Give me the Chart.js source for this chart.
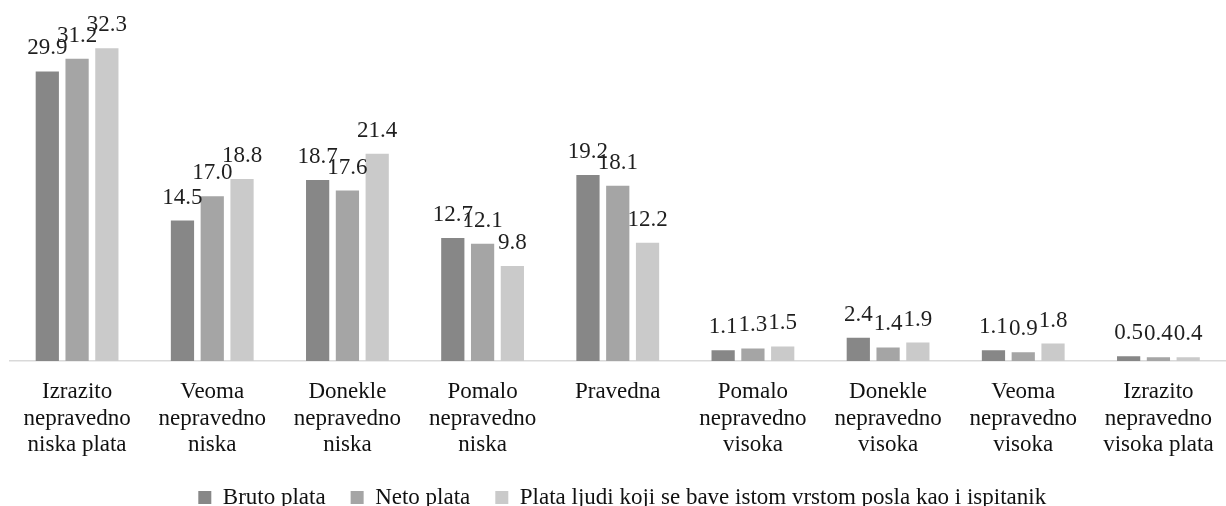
<!DOCTYPE html>
<html>
<head>
<meta charset="utf-8">
<script src="https://cdn.jsdelivr.net/npm/chart.js@4/dist/chart.umd.min.js"></script>
<style>
  html, body { margin: 0; padding: 0; background: #fff; }
  #wrap { width: 1226px; height: 506px; }
</style>
</head>
<body>
<div id="wrap"><canvas id="plataChart"></canvas></div>
<script>
// Procjena plate - podaci
var kategorije = [
    ['Izrazito', 'nepravedno', 'niska plata'],
    ['Veoma', 'nepravedno', 'niska'],
    ['Donekle', 'nepravedno', 'niska'],
    ['Pomalo', 'nepravedno', 'niska'],
    ['Pravedna'],
    ['Pomalo', 'nepravedno', 'visoka'],
    ['Donekle', 'nepravedno', 'visoka'],
    ['Veoma', 'nepravedno', 'visoka'],
    ['Izrazito', 'nepravedno', 'visoka plata']
];
var brutoPlata = [29.9, 14.5, 18.7, 12.7, 19.2, 1.1, 2.4, 1.1, 0.5];
var netoPlata = [31.2, 17.0, 17.6, 12.1, 18.1, 1.3, 1.4, 0.9, 0.4];
var plataDrugih = [32.3, 18.8, 21.4, 9.8, 12.2, 1.5, 1.9, 1.8, 0.4];

var serif = '"Liberation Serif", "Times New Roman", serif';

// vrijednosti iznad stubaca
var valueLabels = {
    id: 'valueLabels',
    afterDatasetsDraw: function (chart) {
        var ctx = chart.ctx;
        ctx.save();
        ctx.font = '23px ' + serif;
        ctx.fillStyle = '#1f1f1f';
        ctx.textAlign = 'center';
        ctx.textBaseline = 'alphabetic';
        chart.data.datasets.forEach(function (ds, i) {
            chart.getDatasetMeta(i).data.forEach(function (bar, j) {
                ctx.fillText(ds.data[j].toFixed(1), bar.x, bar.y - 17);
            });
        });
        ctx.restore();
    }
};

var ctx = document.getElementById('plataChart').getContext('2d');
var plataChart = new Chart(ctx, {
    type: 'bar',
    data: {
        labels: kategorije,
        datasets: [{
            label: 'Bruto plata',
            data: brutoPlata,
            backgroundColor: '#878787'
        }, {
            label: 'Neto plata',
            data: netoPlata,
            backgroundColor: '#a5a5a5'
        }, {
            label: 'Plata ljudi koji se bave istom vrstom posla kao i ispitanik',
            data: plataDrugih,
            backgroundColor: '#cacaca'
        }]
    },
    options: {
        responsive: true,
        maintainAspectRatio: false,
        animation: false,
        datasets: {
            bar: {
                categoryPercentage: 0.661,
                barPercentage: 0.78
            }
        },
        layout: {
            padding: { top: 22, left: 9.5, right: -9, bottom: -13 }
        },
        scales: {
            x: {
                grid: { display: false, drawTicks: false },
                border: { display: true, color: '#d9d9d9', width: 1.5 },
                ticks: {
                    color: '#111',
                    font: { family: serif, size: 23, lineHeight: 1.15 },
                    padding: 18,
                    maxRotation: 0,
                    autoSkip: false
                },
                afterFit: function (scale) {
                    scale.height = 100;
                    scale.paddingLeft = 0;
                    scale.paddingRight = 0;
                }
            },
            y: {
                display: false,
                min: 0,
                max: 35
            }
        },
        plugins: {
            legend: {
                position: 'bottom',
                labels: {
                    color: '#111',
                    font: { family: serif, size: 23 },
                    boxWidth: 13,
                    boxHeight: 13,
                    padding: 25
                }
            },
            tooltip: { enabled: false }
        }
    },
    plugins: [valueLabels]
});
</script>
</body>
</html>
